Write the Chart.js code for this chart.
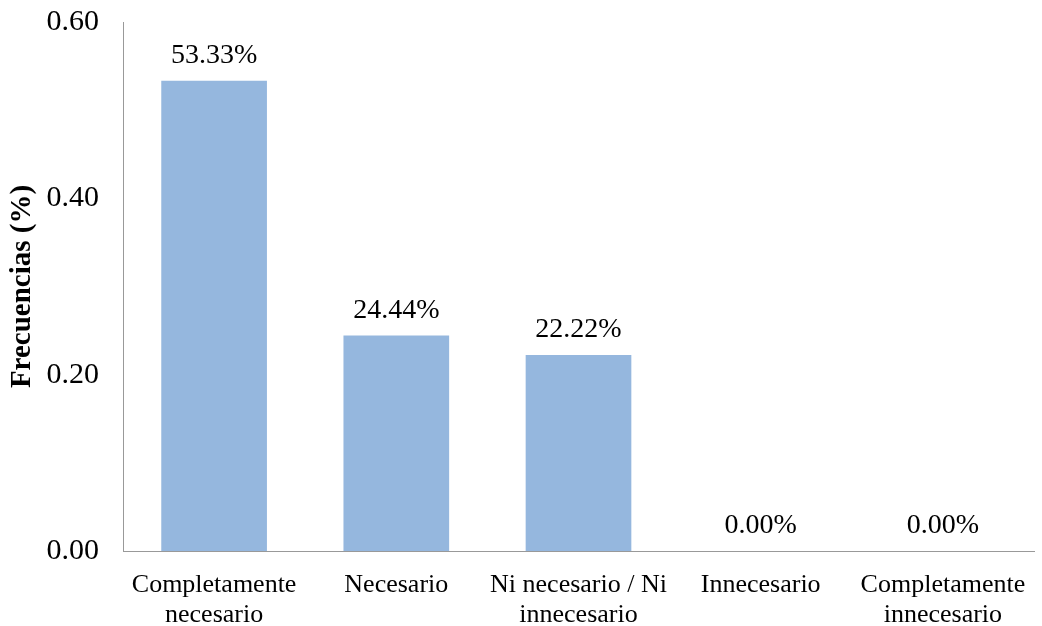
<!DOCTYPE html>
<html>
<head>
<meta charset="utf-8">
<script src="https://cdn.jsdelivr.net/npm/chart.js@4.4.0/dist/chart.umd.min.js"></script>
<style>
  html, body { margin: 0; padding: 0; background: #fff; }
  #chart { display: block; }
</style>
</head>
<body>
<canvas id="chart" width="1042" height="626"></canvas>
<script>
const categories = [
  ['Completamente', 'necesario'],
  ['Necesario'],
  ['Ni necesario / Ni', 'innecesario'],
  ['Innecesario'],
  ['Completamente', 'innecesario']
];
const frequencies = [0.5333, 0.2444, 0.2222, 0, 0];
const percentLabels = ['53.33%', '24.44%', '22.22%', '0.00%', '0.00%'];
const yTicks = [0, 0.2, 0.4, 0.6];

const serif = "'Liberation Serif', 'Times New Roman', serif";

// simple value labels drawn above each bar
const barLabels = {
  id: 'barLabels',
  afterDatasetsDraw(chart) {
    const ctx = chart.ctx;
    const meta = chart.getDatasetMeta(0);
    ctx.save();
    ctx.font = '28px ' + serif;
    ctx.fillStyle = '#000';
    ctx.textAlign = 'center';
    ctx.textBaseline = 'alphabetic';
    meta.data.forEach((bar, i) => {
      ctx.fillText(percentLabels[i], bar.x, bar.y - 18);
    });
    ctx.restore();
  }
};

new Chart(document.getElementById('chart').getContext('2d'), {
  type: 'bar',
  data: {
    labels: categories,
    datasets: [{
      data: frequencies,
      backgroundColor: 'rgb(149,183,222)',
      borderWidth: 0,
      barPercentage: 0.58,
      categoryPercentage: 1.0
    }]
  },
  options: {
    responsive: false,
    animation: false,
    layout: { padding: { top: 22, right: 8, left: 0, bottom: 0 } },
    plugins: {
      legend: { display: false },
      tooltip: { enabled: false }
    },
    scales: {
      x: {
        grid: { display: false },
        border: { display: true, color: '#999', width: 1 },
        ticks: {
          color: '#000',
          font: { family: serif, size: 26, lineHeight: 1.12 },
          padding: 12,
          maxRotation: 0,
          autoSkip: false
        },
        afterFit(scale) { scale.height = 75; }
      },
      y: {
        min: 0,
        max: 0.6,
        afterBuildTicks(scale) { scale.ticks = yTicks.map(v => ({ value: v })); },
        grid: { display: false },
        border: { display: true, color: '#999', width: 1 },
        ticks: {
          color: '#000',
          font: { family: serif, size: 30 },
          padding: 16,
          callback: v => Number(v).toFixed(2)
        },
        title: {
          display: true,
          text: 'Frecuencias (%)',
          color: '#000',
          font: { family: serif, size: 29, weight: 'bold' },
          padding: { top: 5, bottom: 0 }
        },
        afterFit(scale) {
          scale.width = 123;
          scale.paddingTop = 0;
          scale.paddingBottom = 0;
        }
      }
    }
  },
  plugins: [barLabels]
});
</script>
</body>
</html>
